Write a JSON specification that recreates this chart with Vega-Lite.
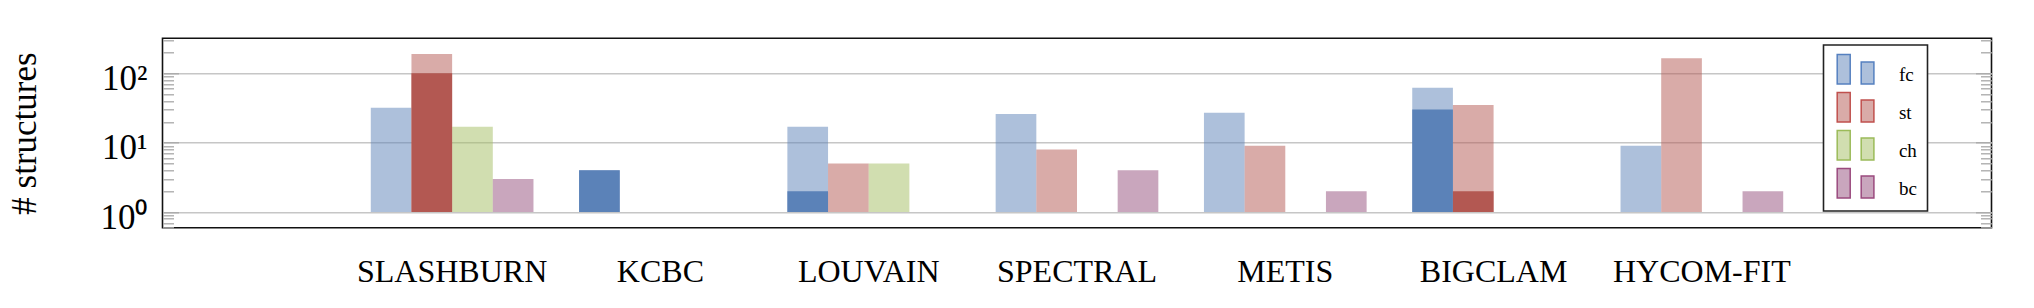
{
  "$schema": "https://vega.github.io/schema/vega-lite/v6.json",
  "width": 1829,
  "height": 189.5,
  "autosize": {"type": "none"},
  "padding": {"left": 162.5, "top": 38.3, "right": 42.5, "bottom": 80.2},
  "background": "white",
  "config": {
    "view": {"stroke": "#111111", "strokeWidth": 1.6},
    "font": "Liberation Serif"
  },
  "data": {
    "values": [
      {"method": "SlashBurn", "structure": "fc", "total": 32, "exact": 0},
      {"method": "SlashBurn", "structure": "st", "total": 190, "exact": 100},
      {"method": "SlashBurn", "structure": "ch", "total": 17, "exact": 0},
      {"method": "SlashBurn", "structure": "bc", "total": 3, "exact": 0},
      {"method": "KCBC", "structure": "fc", "total": 4, "exact": 4},
      {"method": "Louvain", "structure": "fc", "total": 17, "exact": 2},
      {"method": "Louvain", "structure": "st", "total": 5, "exact": 0},
      {"method": "Louvain", "structure": "ch", "total": 5, "exact": 0},
      {"method": "Spectral", "structure": "fc", "total": 26, "exact": 0},
      {"method": "Spectral", "structure": "st", "total": 8, "exact": 0},
      {"method": "Spectral", "structure": "bc", "total": 4, "exact": 0},
      {"method": "METIS", "structure": "fc", "total": 27, "exact": 0},
      {"method": "METIS", "structure": "st", "total": 9, "exact": 0},
      {"method": "METIS", "structure": "bc", "total": 2, "exact": 0},
      {"method": "BigClam", "structure": "fc", "total": 62, "exact": 30},
      {"method": "BigClam", "structure": "st", "total": 35, "exact": 2},
      {"method": "HyCoM-FIT", "structure": "fc", "total": 9, "exact": 0},
      {"method": "HyCoM-FIT", "structure": "st", "total": 165, "exact": 0},
      {"method": "HyCoM-FIT", "structure": "bc", "total": 2, "exact": 0}
    ]
  },
  "encoding": {
    "x": {
      "field": "method",
      "type": "nominal",
      "sort": ["SlashBurn", "KCBC", "Louvain", "Spectral", "METIS", "BigClam", "HyCoM-FIT"],
      "scale": {
        "type": "band",
        "domain": ["SlashBurn", "KCBC", "Louvain", "Spectral", "METIS", "BigClam", "HyCoM-FIT"],
        "paddingInner": 0.219,
        "paddingOuter": 1.1095
      },
      "axis": {
        "title": null,
        "ticks": false,
        "domain": false,
        "grid": false,
        "labelExpr": "upper(datum.label)",
        "labelFont": "Liberation Serif",
        "labelFontSize": 32,
        "labelColor": "#000000",
        "labelPadding": 28.7,
        "labelAngle": 0,
        "labelLimit": 0,
        "labelOverlap": false
      }
    },
    "xOffset": {
      "field": "structure",
      "type": "nominal",
      "scale": {"domain": ["fc", "st", "ch", "bc"], "paddingInner": 0, "paddingOuter": 0}
    }
  },
  "layer": [
    {
      "mark": {"type": "bar", "fillOpacity": 0.5, "strokeWidth": 0},
      "encoding": {
        "y": {
          "field": "total",
          "type": "quantitative",
          "scale": {"type": "log", "domain": [0.593, 320], "nice": false},
          "axis": {
            "orient": "left",
            "title": "# structures",
            "values": [0.6, 0.7, 0.8, 0.9, 1, 2, 3, 4, 5, 6, 7, 8, 9, 10, 20, 30, 40, 50, 60, 70, 80, 90, 100, 200, 300],
            "labelExpr": "datum.value == 1 ? '10⁰' : datum.value == 10 ? '10¹' : datum.value == 100 ? '10²' : ''",
            "grid": true,
            "gridColor": "#c6c6c6",
            "gridWidth": 1.5,
            "gridOpacity": {"condition": {"test": "datum.value == 1 || datum.value == 10 || datum.value == 100", "value": 1}, "value": 0},
            "tickColor": "#a8a8a8",
            "tickWidth": 1.3,
            "tickSize": {"condition": {"test": "datum.value == 1 || datum.value == 10 || datum.value == 100", "value": -16}, "value": -11},
            "domain": false,
            "labelFont": "Liberation Serif",
            "labelFontSize": 35,
            "labelColor": "#000000",
            "labelPadding": 31.6,
            "labelOffset": 5,
            "labelOverlap": false,
            "labelFlush": false,
            "labelBound": false,
            "titleFont": "Liberation Serif",
            "titleFontSize": 35,
            "titleFontWeight": "normal",
            "titleColor": "#000000",
            "titlePadding": 57
          }
        },
        "y2": {"datum": 1},
        "fill": {
          "field": "structure",
          "type": "nominal",
          "scale": {"domain": ["fc", "st", "ch", "bc"], "range": ["#5b82b8", "#b35852", "#a3be62", "#934d7b"]},
          "legend": {
            "orient": "none",
            "legendX": 1661,
            "legendY": 6.7,
            "title": null,
            "symbolType": "M-0.854,-1.08H-0.151V0.51H-0.854Z M0.443,-0.68H1.13V0.51H0.443Z",
            "symbolSize": 1369,
            "labelFont": "Liberation Serif",
            "labelFontSize": 19,
            "labelColor": "#000000",
            "labelOffset": 26.4,
            "labelExpr": "datum.label + '   '",
            "padding": 10,
            "rowPadding": 2,
            "strokeColor": "#222222",
            "fillColor": "#ffffff",
            "encode": {
              "legend": {"update": {"strokeWidth": {"value": 1.6}}},
              "symbols": {"update": {"strokeWidth": {"value": 1.5}, "fillOpacity": {"value": 0.5}}}
            }
          }
        },
        "stroke": {
          "field": "structure",
          "type": "nominal",
          "scale": {"domain": ["fc", "st", "ch", "bc"], "range": ["#5580c0", "#c0504d", "#9bbb59", "#9a4a7e"]},
          "legend": {
            "orient": "none",
            "legendX": 1661,
            "legendY": 6.7,
            "title": null,
            "symbolType": "M-0.854,-1.08H-0.151V0.51H-0.854Z M0.443,-0.68H1.13V0.51H0.443Z",
            "symbolSize": 1369,
            "labelFont": "Liberation Serif",
            "labelFontSize": 19,
            "labelColor": "#000000",
            "labelOffset": 26.4,
            "labelExpr": "datum.label + '   '",
            "padding": 10,
            "rowPadding": 2,
            "strokeColor": "#222222",
            "fillColor": "#ffffff",
            "encode": {
              "legend": {"update": {"strokeWidth": {"value": 1.6}}},
              "symbols": {"update": {"strokeWidth": {"value": 1.5}, "fillOpacity": {"value": 0.5}}}
            }
          }
        }
      }
    },
    {
      "transform": [{"filter": "datum.exact > 0"}],
      "mark": {"type": "bar"},
      "encoding": {
        "y": {
          "field": "exact",
          "type": "quantitative",
          "axis": {
            "orient": "right",
            "title": null,
            "values": [0.6, 0.7, 0.8, 0.9, 1, 2, 3, 4, 5, 6, 7, 8, 9, 10, 20, 30, 40, 50, 60, 70, 80, 90, 100, 200, 300],
            "labels": false,
            "grid": false,
            "domain": false,
            "tickColor": "#a8a8a8",
            "tickWidth": 1.3,
            "tickSize": {"condition": {"test": "datum.value == 1 || datum.value == 10 || datum.value == 100", "value": -16}, "value": -11}
          }
        },
        "y2": {"datum": 1},
        "color": {
          "field": "structure",
          "type": "nominal",
          "scale": {"domain": ["fc", "st", "ch", "bc"], "range": ["#5b82b8", "#b35852", "#a3be62", "#934d7b"]},
          "legend": null
        }
      }
    }
  ],
  "resolve": {"axis": {"y": "independent"}}
}
